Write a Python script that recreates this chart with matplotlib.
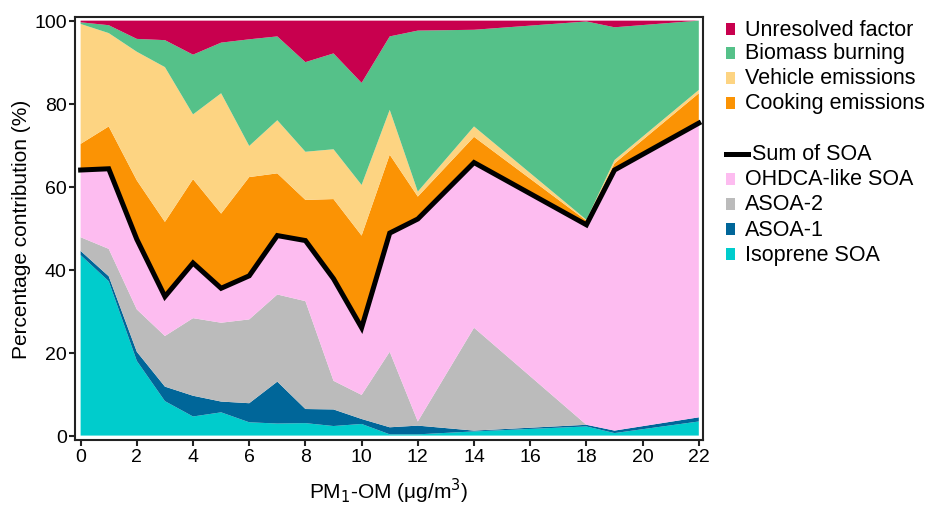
import matplotlib
matplotlib.use('Agg')
import numpy as np
import matplotlib.pyplot as plt
from matplotlib.patches import Rectangle
from matplotlib.lines import Line2D

plt.rcParams['font.family'] = ['Liberation Sans', 'DejaVu Sans']

# PM1-OM bins
pm_om = [0, 1, 2, 3, 4, 5, 6, 7, 8, 9, 10, 11, 12, 14, 18, 19, 22]

# contribution of each factor (%)
isoprene = [43.5, 37.2, 18.0, 8.3, 4.6, 5.6, 3.2, 2.9, 3.0, 2.3, 2.8, 0.3, 0.3, 1.0, 2.2, 0.6, 3.4]
asoa1 = [1.0, 1.2, 2.2, 3.5, 5.0, 2.6, 4.6, 10.1, 3.4, 4.0, 1.2, 1.7, 2.1, 0.2, 0.4, 0.6, 1.0]
asoa2 = [3.3, 6.6, 10.2, 12.2, 18.7, 19.0, 20.2, 21.0, 26.0, 6.9, 5.8, 18.2, 1.0, 24.8, 0.0, 0.0, 0.0]
ohdca = [16.2, 19.3, 16.9, 9.5, 13.3, 8.3, 10.5, 14.2, 14.6, 24.6, 16.2, 28.6, 48.8, 39.8, 48.2, 62.8, 70.9]
cooking = [6.3, 10.2, 14.2, 18.0, 20.2, 18.0, 23.8, 15.0, 9.8, 19.2, 22.2, 18.9, 5.4, 6.2, 1.0, 1.6, 7.2]
vehicle = [28.9, 22.5, 31.0, 37.3, 15.6, 29.0, 7.5, 12.8, 11.6, 12.0, 12.2, 10.8, 1.2, 2.5, 0.2, 0.8, 0.8]
biomass = [0.4, 1.9, 3.1, 6.5, 14.4, 12.2, 25.7, 20.2, 21.6, 23.1, 24.6, 17.7, 38.8, 23.3, 47.8, 32.0, 16.7]
unresolved = [0.4, 1.1, 4.4, 4.7, 8.2, 5.3, 4.5, 3.8, 10.0, 7.9, 15.0, 3.8, 2.4, 2.2, 0.2, 1.6, 0.0]

labels = ['Isoprene SOA', 'ASOA-1', 'ASOA-2', 'OHDCA-like SOA',
          'Cooking emissions', 'Vehicle emissions', 'Biomass burning', 'Unresolved factor']
colors = ['#00CCCC', '#006699', '#BBBBBB', '#FDBCF0',
          '#FB9304', '#FDD482', '#55C189', '#C8004E']

fig = plt.figure(figsize=(9.34, 5.06), dpi=100)
ax = fig.add_axes([0.0803, 0.129, 0.6724, 0.8348])

ax.stackplot(pm_om, isoprene, asoa1, asoa2, ohdca, cooking, vehicle, biomass, unresolved,
             colors=colors, linewidth=0)

# sum of SOA
sum_soa = np.array(isoprene) + np.array(asoa1) + np.array(asoa2) + np.array(ohdca)
ax.plot(pm_om, sum_soa, color='black', lw=3.6, solid_joinstyle='miter')

ax.set_xlim(-0.2, 22.15)
ax.set_ylim(-1, 100.8)
ax.set_xticks(range(0, 23, 2))
ax.set_yticks(range(0, 101, 20))
ax.tick_params(labelsize=14, length=4, width=1.5, color='#222222', pad=2)
for s in ax.spines.values():
    s.set_linewidth(1.5)
    s.set_color('#222222')

ax.set_ylabel('Percentage contribution (%)', fontsize=15, labelpad=2)
ax.set_xlabel('PM$_1$-OM (μg/m$^3$)', fontsize=15, labelpad=8)

# legend drawn by hand, two groups
W, H = 934.0, 506.0
grp1 = [('Unresolved factor', colors[7], 30), ('Biomass burning', colors[6], 54),
        ('Vehicle emissions', colors[5], 79), ('Cooking emissions', colors[4], 104)]
grp2 = [('OHDCA-like SOA', colors[3], 180), ('ASOA-2', colors[2], 205),
        ('ASOA-1', colors[1], 230), ('Isoprene SOA', colors[0], 255)]
for name, c, yy in grp1 + grp2:
    fig.add_artist(Rectangle((726 / W, 1 - (yy + 6) / H), 9 / W, 12 / H,
                             facecolor=c, edgecolor='none', transform=fig.transFigure))
    fig.text(745 / W, 1 - yy / H, name, fontsize=15.5, va='center', ha='left')

fig.add_artist(Line2D([726 / W, 748 / W], [1 - 155 / H, 1 - 155 / H],
                      color='black', lw=3.6, transform=fig.transFigure))
fig.text(752 / W, 1 - 155 / H, 'Sum of SOA', fontsize=15.5, va='center', ha='left')

fig.savefig('out.png', dpi=100)
